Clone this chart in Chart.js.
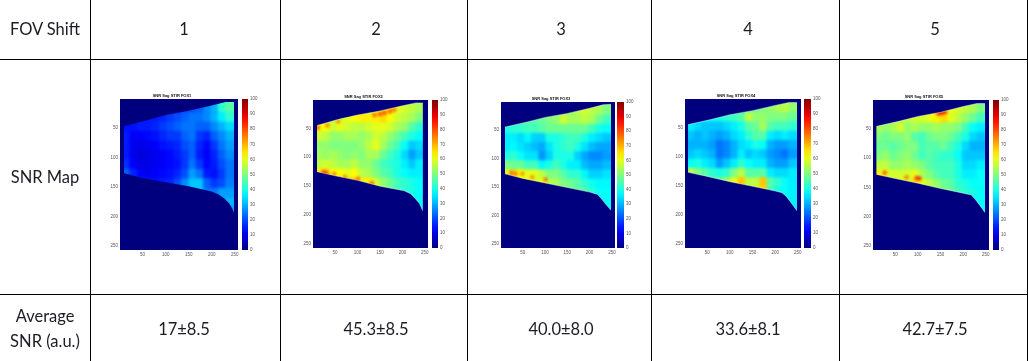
<!DOCTYPE html>
<html><head><meta charset="utf-8">
<script src="https://cdn.jsdelivr.net/npm/chart.js@4"></script>
<style>
html,body{margin:0;padding:0;background:#fff;width:1028px;height:361px;overflow:hidden}
.abs{position:absolute}
.t{position:absolute;font-family:Lato,"Open Sans",sans-serif;font-size:16.5px;color:#1c1c24;text-align:center;white-space:nowrap;transform:translate(-50%,-50%);filter:blur(.25px)}
.l{position:absolute;background:#000}
canvas{display:block}
</style></head><body>
<script>
// ---------- table text ----------
const shiftLabels = ["1","2","3","4","5"];
const averageSnr = ["17±8.5","45.3±8.5","40.0±8.0","33.6±8.1","42.7±7.5"];
const mapTitles = ["SNR Sag STIR FOX1","SNR Sag STIR FOX2","SNR Sag STIR FOX3","SNR Sag STIR FOX4","SNR Sag STIR FOX5"];

// ---------- SNR grid axes (image units) ----------
const gridX = [16,32,48,64,80,96,112,128,144,160,176,192,208,224,240];
const gridY = [16,32,48,64,80,96,112,128,144,160,176,192];
const axisTicks = [50,100,150,200,250];
const colorbarTicks = [0,10,20,30,40,50,60,70,80,90,100];

// ---------- SNR, one row per gridY ----------
const snr1 = [
[15,15,15,15,15,15,15,15,18,20,22,26,30,42,46],
[15,15,15,15,15,16,18,20,22,24,24,26,30,36,42],
[14,14,15,15,16,18,20,22,24,24,22,22,26,30,34],
[15,12,12,13,14,16,18,18,22,24,18,16,22,26,30],
[15,11,10,11,12,14,15,16,20,22,16,13,18,24,28],
[15,11, 9,10,11,12,13,15,18,22,15,12,16,22,26],
[17,12,10,10,11,12,13,14,18,24,18,13,15,20,24],
[22,16,12,11,12,13,14,16,20,28,24,15,14,18,24],
[20,20,18,15,14,15,16,20,26,32,32,22,18,20,25],
[20,20,18,15,14,15,16,20,26,32,32,24,24,28,28],
[20,20,18,15,14,15,16,20,26,32,32,24,24,28,30],
[20,20,18,15,14,15,16,20,26,32,32,24,24,28,28]];
const snr2 = [
[56,56,56,56,56,56,56,56,60,64,64,60,58,56,54],
[56,56,56,58,60,62,64,64,64,66,62,58,56,54,50],
[62,62,58,60,58,56,56,58,60,60,58,54,52,46,42],
[58,56,52,52,54,54,52,54,58,56,52,48,44,40,38],
[52,52,50,50,50,50,52,56,60,54,48,44,38,32,34],
[54,52,54,52,50,52,50,54,54,48,44,40,34,28,32],
[56,58,56,54,54,56,52,52,48,44,42,40,36,32,36],
[64,66,62,62,60,62,56,54,50,46,44,40,38,36,36],
[62,62,62,64,66,68,64,64,58,52,48,44,42,40,38],
[58,58,58,58,58,58,58,58,56,54,48,44,42,40,38],
[58,58,58,58,58,58,58,58,56,54,48,44,42,38,38],
[58,58,58,58,58,58,58,58,56,54,48,44,42,38,38]];
const snr3 = [
[45,45,45,45,45,45,45,45,50,52,55,58,56,54,50],
[46,46,46,46,46,48,50,52,58,54,54,56,54,48,44],
[40,42,42,44,44,46,48,48,48,48,48,48,44,40,38],
[36,36,34,37,33,33,40,40,42,44,44,40,36,34,32],
[36,37,35,33,31,29,35,40,42,44,40,35,31,29,29],
[40,42,38,35,35,27,33,40,40,40,33,29,26,26,28],
[50,48,48,44,44,37,40,44,40,36,36,31,29,29,31],
[60,66,62,60,60,56,50,50,46,42,42,37,33,33,35],
[58,58,62,62,58,62,56,54,50,48,46,42,39,37,37],
[55,55,55,55,55,55,55,55,55,50,48,46,42,38,38],
[55,55,55,55,55,55,55,55,55,50,48,46,42,38,38],
[55,55,55,55,55,55,55,55,55,50,48,46,42,38,38]];
const snr4 = [
[40,40,40,40,40,40,40,40,44,48,50,52,54,56,52],
[36,36,38,38,40,42,44,46,56,52,52,50,50,50,48],
[36,34,32,32,32,34,36,40,46,48,54,46,44,44,42],
[32,30,32,30,28,30,34,36,42,46,46,36,34,36,34],
[30,30,30,28,24,26,30,34,36,40,38,30,28,28,30],
[32,34,32,30,24,26,30,36,32,34,32,28,26,24,28],
[38,40,36,34,28,32,36,42,38,36,36,30,28,28,32],
[56,50,46,42,40,42,50,56,46,46,46,36,34,34,36],
[50,50,50,46,48,54,60,68,56,56,68,46,42,38,36],
[50,50,50,50,50,58,62,66,58,60,66,44,40,38,36],
[50,50,50,50,50,58,62,64,58,60,48,44,40,38,36],
[50,50,50,50,50,58,62,64,58,60,48,44,40,38,36]];
const snr5 = [
[55,55,55,55,55,55,55,55,62,64,60,58,56,54,50],
[53,53,53,53,56,58,58,60,64,66,60,56,52,48,44],
[54,52,54,58,52,54,52,52,54,52,52,50,44,38,36],
[50,48,50,50,52,46,44,48,50,50,48,44,40,34,32],
[48,48,46,48,50,50,44,46,46,48,44,40,34,30,30],
[50,52,48,50,52,48,44,46,44,42,42,38,32,32,32],
[56,56,52,52,54,52,50,46,44,44,44,40,34,34,36],
[64,60,58,58,58,60,54,50,46,44,44,40,36,36,38],
[64,58,58,64,58,66,60,56,52,48,46,42,40,38,38],
[58,58,58,58,58,58,58,58,58,52,48,44,42,40,38],
[58,58,58,58,58,58,58,58,58,52,48,44,42,38,38],
[58,58,58,58,58,58,58,58,58,52,48,44,42,38,38]];

// ---------- small hot spots along the edges, as [x,y,snr] ----------
const hot1 = [];
const hot2 = [[12,49,82],[33,45,78],[57,38,76],[138,27,82],[150,25,84],[160,23,85],[172,21,84],[182,18,80],[24,126,86],[32,127,82],[48,129,78],[72,134,78],[101,137,80],[132,145,82]];
const hot3 = [[24,125,80],[34,127,78],[49,127,76],[71,133,76],[101,137,80]];
const hot4 = [];
const hot5 = [[145,24,88],[152,23,90],[160,22,88],[27,125,84],[75,133,78],[97,134,86],[104,135,86]];

// ---------- anatomy outline of each map, as [x,y] in image units ----------
const top1 = [[10,47],[60,37],[100,28],[150,21],[200,12],[230,6],[248,6]];
const top2 = [[10,45],[60,34],[100,27],[150,20],[200,11],[230,6],[245,6]];
const top3 = [[10,45],[60,36],[100,28],[150,21],[200,12],[230,6],[248,5]];
const top4 = [[8,45],[60,36],[100,28],[150,21],[200,12],[230,7],[248,7]];
const top5 = [[9,46],[60,37],[100,29],[150,22],[200,12],[230,7],[248,7]];
const bot1 = [[10,127],[50,135],[100,142],[150,149],[200,158],[215,163],[228,170],[238,178],[244,186],[248,193]];
const bot2 = [[10,125],[50,132],[100,140],[150,150],[204,158],[218,163],[228,171],[238,180],[245,192]];
const bot3 = [[10,127],[50,135],[100,143],[150,151],[200,159],[218,163],[226,170],[236,180],[248,191]];
const bot4 = [[8,127],[50,134],[100,143],[150,151],[200,159],[215,162],[224,168],[234,178],[248,193]];
const bot5 = [[9,128],[50,135],[100,143],[150,152],[200,160],[218,163],[226,170],[236,180],[248,193]];
const leftEdge = [10,10,10,8,9];
const rightEdge = [248,245,248,248,248];
const imageRange = [1,257];

const snrMaps = [snr1,snr2,snr3,snr4,snr5];
const hotSpots = [hot1,hot2,hot3,hot4,hot5];
const topEdges = [top1,top2,top3,top4,top5];
const botEdges = [bot1,bot2,bot3,bot4,bot5];

// ---------- layout ----------
const rects = [[120,238,99,250],[313,428,100,248],[501,615,102,248],[685,801,99,248],[873,989,100,250]];
const barX = [[242,248],[432,438],[617,624],[804,811],[993,999]];
const hLines = [59,294], vLines = [90,280,467,651,839,1027];
const colCentres = [184,376,561,748,935];
const BG = '#00007f';

function el(tag,cls,css,html){const d=document.createElement(tag);if(cls)d.className=cls;Object.assign(d.style,css||{});if(html!=null)d.textContent=html;document.body.appendChild(d);return d;}
hLines.forEach(y=>el('div','l',{left:'0',top:y+'px',width:'1028px',height:'1px'}));
vLines.forEach(x=>el('div','l',{left:x+'px',top:'0',width:'1px',height:'361px'}));
function txt(s,x,y){el('div','t',{left:x+'px',top:y+'px'},s);}
txt('FOV Shift',45,29);txt('SNR Map',45,177);txt('Average',45,316);txt('SNR (a.u.)',45,341);
shiftLabels.forEach((s,i)=>txt(s,colCentres[i],29));
averageSnr.forEach((s,i)=>txt(s,colCentres[i],329));

function jet(v){
  const t=Math.max(0,Math.min(1,v/100));
  const c=a=>Math.round(255*Math.max(0,Math.min(1,1.5-Math.abs(4*t-a))));
  return `rgb(${c(3)},${c(2)},${c(1)})`;
}
function mkCanvas(w,h,left,top,parent,filter){
  const c=document.createElement('canvas');c.width=w;c.height=h;
  Object.assign(c.style,{position:'absolute',left:left+'px',top:top+'px',width:w+'px',height:h+'px'});
  if(filter)c.style.filter=filter;
  (parent||document.body).appendChild(c);return c;
}
const base={responsive:false,animation:false,events:[],plugins:{legend:{display:false},tooltip:{enabled:false}}};
const tickFont={size:4.5,family:'Liberation Sans'};
const tickColor='#555';
const noPad=s=>{s.paddingLeft=s.paddingRight=s.paddingTop=s.paddingBottom=0;};

rects.forEach((R,i)=>{
  const [x0,x1,y0,y1]=R, pw=x1-x0, ph=y1-y0, pad=8;
  const [imin,imax]=imageRange;
  const wrap=el('div','abs',{left:x0+'px',top:y0+'px',width:pw+'px',height:ph+'px',overflow:'hidden',background:BG});
  const cells=[],colors=[];
  const m=snrMaps[i];
  const extX=[0,...gridX,256], extY=[0,...gridY];
  extY.forEach((y,r)=>extX.forEach((x,c)=>{
    const v=m[Math.max(0,r-1)][Math.max(0,Math.min(gridX.length-1,c-1))];
    cells.push({x,y});colors.push(jet(v));
  }));
  const hot=hotSpots[i];
  new Chart(mkCanvas(pw+2*pad,ph+2*pad,-pad,-pad,wrap,'blur(1.7px)'),{type:'scatter',
    data:{datasets:[
      {order:1,data:hot.map(p=>({x:p[0],y:p[1]})),pointStyle:'circle',pointRadius:2,pointBorderWidth:0,backgroundColor:hot.map(p=>jet(p[2])),clip:false},
      {order:2,data:cells,pointStyle:'rect',pointRadius:7,pointBorderWidth:0,backgroundColor:colors,clip:false}
    ]},
    options:{...base,layout:{padding:pad},scales:{
      x:{display:false,min:imin,max:imax},
      y:{display:false,reverse:true,min:imin,max:imax}}}});
  const L=14,T=6,B=10,RM=4;
  const edgeLine=(i===0)?'rgba(255,255,255,0)':'rgba(255,255,255,.4)';
  const toPts=a=>[{x:imin,y:a[0][1]},...a.map(p=>({x:p[0],y:p[1]})),{x:imax,y:a[a.length-1][1]}];
  const mask=(pts,val,line)=>({type:'line',data:pts,fill:{value:val},backgroundColor:BG,borderColor:line,borderWidth:1,pointRadius:0,tension:0});
  new Chart(mkCanvas(pw+L+RM,ph+T+B,x0-L,y0-T,null,'blur(.5px)'),{type:'scatter',
    data:{datasets:[
      mask([{x:imin,y:imin},{x:leftEdge[i],y:imin}],imax,BG),
      mask([{x:rightEdge[i],y:imin},{x:imax,y:imin}],imax,BG),
      mask(toPts(topEdges[i]),imin,edgeLine),
      mask(toPts(botEdges[i]),imax,edgeLine)
    ]},
    options:{...base,layout:{padding:{right:RM}},
      plugins:{...base.plugins,title:{display:true,text:mapTitles[i],font:{size:4,family:'Liberation Sans',weight:'bold'},color:'#111',padding:{top:0,bottom:1.2}}},
      scales:{
        x:{type:'linear',min:imin,max:imax,grid:{display:false,drawTicks:false},border:{display:false},
           afterBuildTicks:s=>{s.ticks=axisTicks.map(v=>({value:v}));},afterFit:s=>{s.height=B;noPad(s);},
           ticks:{font:tickFont,color:tickColor,maxRotation:0,autoSkip:false,padding:2}},
        y:{type:'linear',reverse:true,min:imin,max:imax,grid:{display:false,drawTicks:false},border:{display:false},
           afterBuildTicks:s=>{s.ticks=axisTicks.map(v=>({value:v}));},afterFit:s=>{s.width=L;noPad(s);},
           ticks:{font:tickFont,color:tickColor,autoSkip:false,padding:2}}
      }}});
  const [b0,b1]=barX[i], bw=b1-b0, RT=12, vp=3;
  new Chart(mkCanvas(bw+RT,ph+2*vp,b0,y0-vp,null,'blur(.45px)'),{type:'bar',
    data:{labels:['SNR'],datasets:[{data:[[colorbarTicks[0],colorbarTicks[colorbarTicks.length-1]]],barPercentage:1,categoryPercentage:1,
      backgroundColor(ctx){
        const a=ctx.chart.chartArea; if(!a)return BG;
        const g=ctx.chart.ctx.createLinearGradient(0,a.bottom,0,a.top);
        for(let k=0;k<=20;k++)g.addColorStop(k/20,jet(k*5));
        return g;
      }}]},
    options:{...base,layout:{padding:{top:vp,bottom:vp}},scales:{
      x:{display:false,grid:{display:false}},
      y:{position:'right',min:0,max:100,grid:{display:false,drawTicks:false},border:{display:false},
         afterBuildTicks:s=>{s.ticks=colorbarTicks.map(v=>({value:v}));},afterFit:s=>{s.width=RT;noPad(s);},
         ticks:{font:tickFont,color:tickColor,autoSkip:false,padding:2}}
    }}});
});
</script>
</body></html>
